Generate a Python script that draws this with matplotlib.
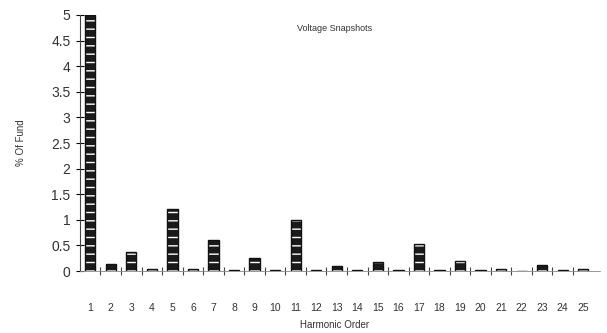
import matplotlib.pyplot as plt
import numpy as np

plt.rcParams["font.family"] = ["Liberation Sans", "DejaVu Sans"]

# harmonic orders and % of fundamental
harmonics = list(range(1, 26))
pct_fund = [5.0, 0.13, 0.38, 0.04, 1.22, 0.04, 0.60, 0.03, 0.25, 0.02,
            1.00, 0.03, 0.10, 0.02, 0.18, 0.03, 0.52, 0.03, 0.20, 0.03,
            0.04, 0.01, 0.12, 0.02, 0.04]
yticks = np.arange(0, 5.01, 0.5)
ytick_labels = ["0", "0.5", "1", "1.5", "2", "2.5", "3", "3.5", "4", "4.5", "5"]

fig = plt.figure(figsize=(6.07, 3.33), dpi=100)
ax = fig.add_axes([0.132, 0.186, 0.856, 0.769])

# filled bars with white hatch, then a black outline on top
ax.bar(harmonics, pct_fund, width=0.5, color="#1a1a1a", edgecolor="white",
       hatch="--", linewidth=0)
ax.bar(harmonics, pct_fund, width=0.5, fill=False, edgecolor="#111111",
       linewidth=1.0)

ax.set_xlim(0.51, 25.8)
ax.set_ylim(0, 5)

ax.set_yticks(yticks)
ax.set_yticklabels(ytick_labels, fontsize=10, color="#333333")
ax.tick_params(axis="y", direction="inout", length=6, width=0.8, pad=4)

# category labels sit well below the axis line
ax.set_xticks(harmonics)
ax.set_xticklabels([str(h) for h in harmonics], fontsize=7.5, color="#333333")
ax.tick_params(axis="x", which="major", length=0, pad=23)
ax.set_xticks(np.arange(1.5, 25.5, 1), minor=True)
ax.tick_params(axis="x", which="minor", direction="inout", length=6,
               width=0.8, color="#444444")

for side in ["top", "right"]:
    ax.spines[side].set_visible(False)
ax.spines["left"].set_color("#444444")
ax.spines["bottom"].set_color("#888888")
ax.spines["bottom"].set_linewidth(0.6)

ax.set_xlabel("Harmonic Order", fontsize=7, color="#333333")
ax.xaxis.set_label_coords(0.49, -0.19)
ax.set_ylabel("% Of Fund", fontsize=7, color="#333333", labelpad=18)
ax.text(0.49, 0.965, "Voltage Snapshots", transform=ax.transAxes,
        fontsize=6.5, color="#333333", ha="center", va="top")

fig.savefig("out.png", dpi=100, facecolor="white")
